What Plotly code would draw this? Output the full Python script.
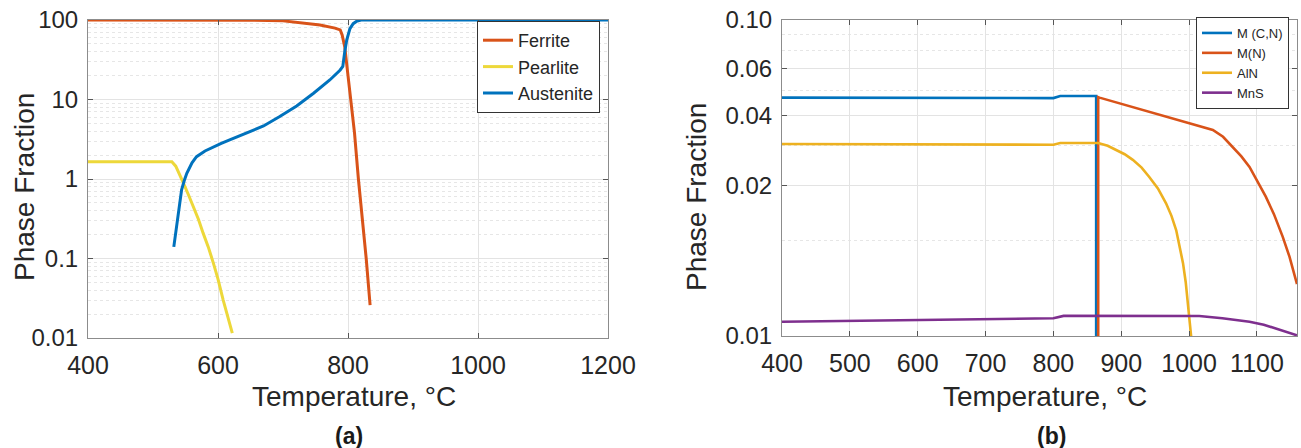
import plotly.graph_objects as go

# ---------- Panel (a) data ----------
t_ferrite = [400, 550, 650, 700, 726, 757, 780, 788, 791, 795, 800, 805, 810, 816, 822, 828, 834]
ferrite = [100, 100, 99.5, 97.5, 92.5, 86.5, 79, 75, 65, 46, 20, 8, 3.8, 1.0, 0.33, 0.1, 0.026]

t_pearlite = [400, 529, 535, 540, 547, 555, 562, 570, 577, 585, 593, 600, 608, 614, 618, 622]
pearlite = [1.65, 1.65, 1.45, 1.2, 0.88, 0.62, 0.45, 0.31, 0.21, 0.14, 0.087, 0.055, 0.030, 0.020, 0.015, 0.0115]

t_austenite = [532, 535, 539, 544, 548, 552, 560, 567, 580, 593, 605, 618, 644, 670, 695, 721, 747, 772, 788,
               792, 795, 798, 803, 808, 813, 820, 1200]
austenite = [0.14, 0.22, 0.37, 0.73, 0.95, 1.18, 1.6, 1.91, 2.25, 2.55, 2.8, 3.1, 3.76, 4.65, 6.1, 8.3, 12, 17.6, 23.5,
             26, 40, 56, 78, 90, 96, 100, 100]

# ---------- Panel (b) data ----------
t_mcn = [400, 600, 800, 810, 863, 863]
mcn = [0.0568, 0.0567, 0.0566, 0.0575, 0.0575, 0.0090]

t_mn = [866, 866, 868, 941, 1000, 1035, 1050, 1064, 1077, 1089, 1100, 1113, 1125, 1138, 1148, 1159]
mn = [0.0090, 0.0570, 0.0568, 0.0513, 0.0471, 0.0449, 0.0427, 0.0397, 0.0370, 0.0343, 0.0312, 0.0276, 0.0243,
      0.0206, 0.0178, 0.0146]

t_aln = [400, 600, 800, 810, 866, 880, 893, 905, 917, 930, 941, 954, 966, 974, 981, 986, 991, 995, 998, 1001, 1003]
aln = [0.0405, 0.0404, 0.0403, 0.0408, 0.0408, 0.0400, 0.0388, 0.0376, 0.0361, 0.0341, 0.0319, 0.0293, 0.0263,
       0.0240, 0.0216, 0.0193, 0.0170, 0.0148, 0.0124, 0.0110, 0.00996]

t_mns = [400, 600, 800, 815, 1015, 1049, 1089, 1110, 1128, 1145, 1159]
mns = [0.01110, 0.01125, 0.01138, 0.01158, 0.01157, 0.01138, 0.01110, 0.01086, 0.01057, 0.01030, 0.01005]

# tick labels
a_xticks = [400, 600, 800, 1000, 1200]
a_yticks = [0.01, 0.1, 1, 10, 100]
a_yticktext = ["0.01", "0.1", "1", "10", "100"]
b_xticks = [400, 500, 600, 700, 800, 900, 1000, 1100]
# axis tick labels as printed on panel (b)
b_tick_pos = [0.01, 0.03, 0.05, 0.07, 0.10]
b_tick_text = ["0.01", "0.02", "0.04", "0.06", "0.10"]
b_minor_pos = [0.02, 0.04, 0.06, 0.08, 0.09]

FONT = "Liberation Sans, Arial, Helvetica, sans-serif"
TXT = "#262626"
C_BLUE = "#0072BD"
C_ORANGE = "#D95319"
C_YEL_A = "#EDD83A"
C_YEL_B = "#EDB120"
C_PURPLE = "#7E2F8E"

fig = go.Figure()

fig.add_trace(go.Scatter(x=t_ferrite, y=ferrite, name="Ferrite", mode="lines",
                         line=dict(color=C_ORANGE, width=3), xaxis="x", yaxis="y", legend="legend"))
fig.add_trace(go.Scatter(x=t_pearlite, y=pearlite, name="Pearlite", mode="lines",
                         line=dict(color=C_YEL_A, width=3), xaxis="x", yaxis="y", legend="legend"))
fig.add_trace(go.Scatter(x=t_austenite, y=austenite, name="Austenite", mode="lines",
                         line=dict(color=C_BLUE, width=3), xaxis="x", yaxis="y", legend="legend"))

fig.add_trace(go.Scatter(x=t_mcn, y=mcn, name="M (C,N)", mode="lines",
                         line=dict(color=C_BLUE, width=2.6), xaxis="x2", yaxis="y2", legend="legend2"))
fig.add_trace(go.Scatter(x=t_mn, y=mn, name="M(N)", mode="lines",
                         line=dict(color=C_ORANGE, width=2.6), xaxis="x2", yaxis="y2", legend="legend2"))
fig.add_trace(go.Scatter(x=t_aln, y=aln, name="AlN", mode="lines",
                         line=dict(color=C_YEL_B, width=2.6), xaxis="x2", yaxis="y2", legend="legend2"))
fig.add_trace(go.Scatter(x=t_mns, y=mns, name="MnS", mode="lines",
                         line=dict(color=C_PURPLE, width=2.6), xaxis="x2", yaxis="y2", legend="legend2"))

W, H = 1301, 448
common_axis = dict(showline=True, linecolor="#8c8c8c", linewidth=1, mirror="ticks",
                   ticks="inside", ticklen=5, tickcolor="#555555", zeroline=False,
                   automargin=False, showgrid=True,
                   gridcolor="#e3e3e3", gridwidth=1)
xfont = dict(family=FONT, size=25, color=TXT)
yfont = dict(family=FONT, size=24, color=TXT)

fig.update_layout(
    width=W, height=H,
    margin=dict(l=0, r=0, t=0, b=0),
    paper_bgcolor="white", plot_bgcolor="white",
    font=dict(family=FONT, color=TXT),
    xaxis=dict(domain=[88 / W, 608 / W], range=[400, 1200], tickvals=a_xticks,
               anchor="y", tickfont=xfont, ticklabelstandoff=5, **common_axis),
    yaxis=dict(domain=[(H - 338) / H, (H - 20) / H], type="log", range=[-2, 2],
               tickvals=a_yticks, ticktext=a_yticktext,
               anchor="x", tickfont=yfont, ticklabelstandoff=4,
               minor=dict(tickvals=[m * 10 ** e for e in (-2, -1, 0, 1) for m in range(2, 10)],
                          showgrid=True, gridcolor="#e6e6e6", griddash="dot", ticks=""),
               **common_axis),
    xaxis2=dict(domain=[782 / W, 1297 / W], range=[400, 1159], tickvals=b_xticks,
                anchor="y2", tickfont=xfont, ticklabelstandoff=5, **common_axis),
    yaxis2=dict(domain=[(H - 336) / H, (H - 20) / H], type="log", range=[-2, -1],
                tickvals=b_tick_pos, ticktext=b_tick_text,
                anchor="x2", tickfont=yfont, ticklabelstandoff=4,
                minor=dict(tickvals=b_minor_pos, showgrid=True, gridcolor="#e6e6e6",
                           griddash="dot", ticks=""),
                **common_axis),
    legend=dict(x=477 / W, y=1 - 21 / H, xanchor="left", yanchor="top",
                bgcolor="white", bordercolor="#333333", borderwidth=1,
                font=dict(family=FONT, size=18, color=TXT), tracegroupgap=0),
    legend2=dict(x=1196 / W, y=1 - 17 / H, xanchor="left", yanchor="top",
                 bgcolor="white", bordercolor="#333333", borderwidth=1,
                 font=dict(family=FONT, size=13, color=TXT), tracegroupgap=0),
)

title_font = dict(family=FONT, size=28, color=TXT)
label_font = dict(family=FONT, size=23, color="#1a1a1a")
annos = [
    dict(text="Temperature, °C", x=354 / W, y=1 - 396 / H, font=title_font),
    dict(text="Temperature, °C", x=1045 / W, y=1 - 396 / H, font=title_font),
    dict(text="Phase Fraction", x=24 / W, y=1 - 187 / H, font=title_font, textangle=-90),
    dict(text="Phase Fraction", x=697 / W, y=1 - 197 / H, font=title_font, textangle=-90),
    dict(text="<b>(a)</b>", x=349 / W, y=1 - 436 / H, font=label_font),
    dict(text="<b>(b)</b>", x=1051 / W, y=1 - 436 / H, font=label_font),
]
for a in annos:
    a.update(xref="paper", yref="paper", showarrow=False, xanchor="center", yanchor="middle")
fig.update_layout(annotations=annos)

fig.write_html("out.html")
